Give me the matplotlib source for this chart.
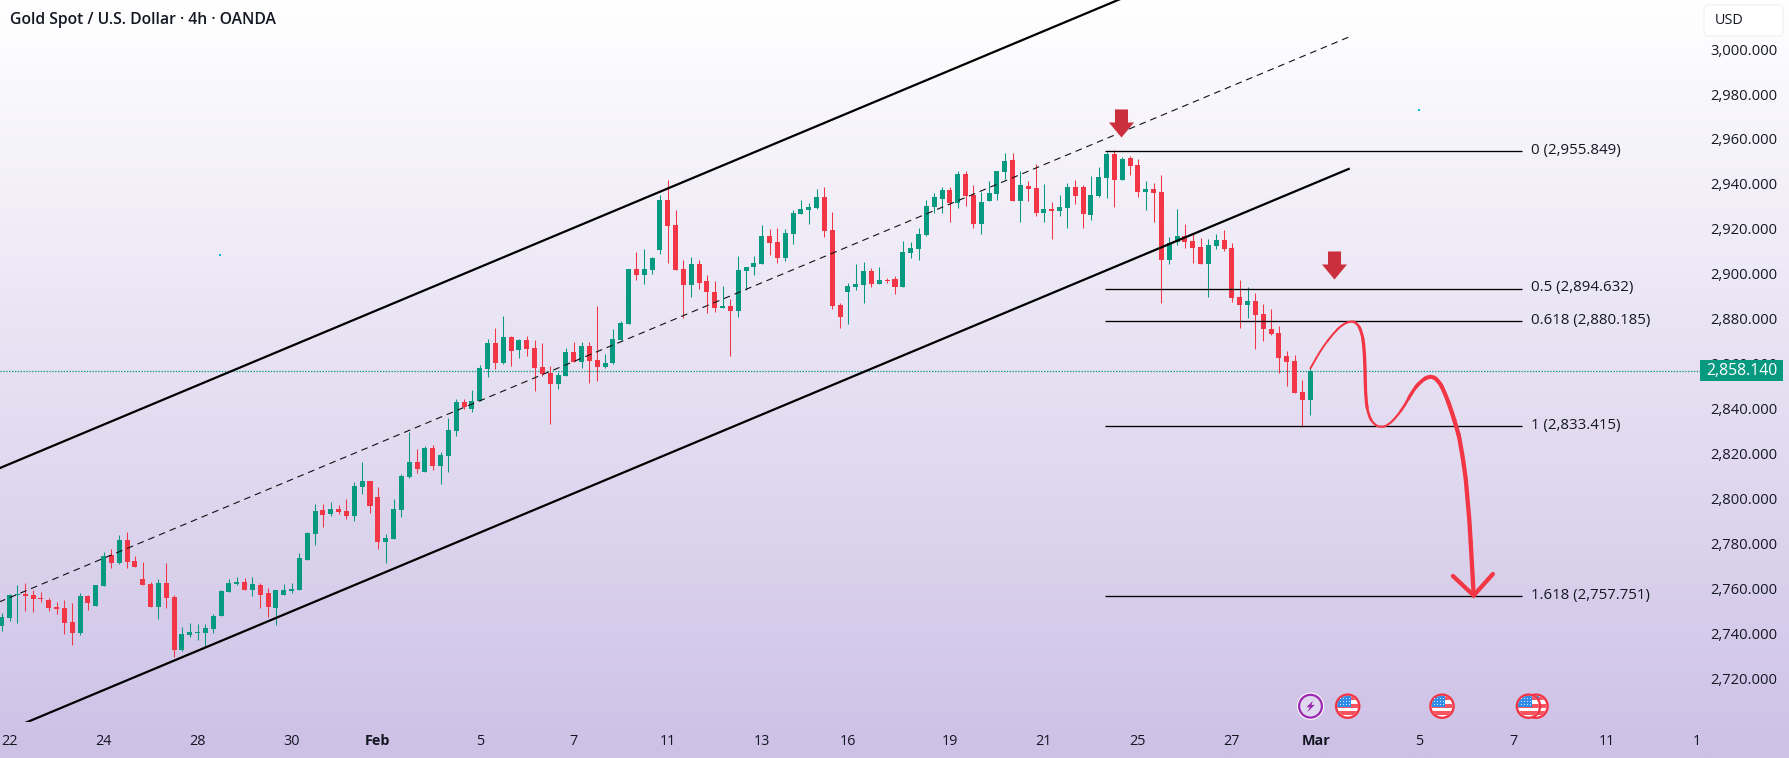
import numpy as np
import matplotlib
matplotlib.use('Agg')
import matplotlib.pyplot as plt
from matplotlib.path import Path
from matplotlib.patches import PathPatch, Rectangle, Circle, FancyBboxPatch, Polygon
from matplotlib.transforms import ScaledTranslation

plt.rcParams['font.family'] = ['Open Sans', 'DejaVu Sans']

# 4h candles: G = rising, R = falling
directions = list(
    "GGGRRRRRRR" "GRGGRGRRRR" "GRRGGGGGGG" "GRGRRGGGGG"
    "GRGRRGGRRG" "GGGRGRGGGR" "GGGRGRGRRR" "RGGRGRRGGG"
    "GRGGGRRRGR" "RRGRGGGGRR" "GGGGGRRRGG" "GRGRRGGGGG"
    "GRGRRGGGGR" "GRRGRGGRRG" "GGRGRRGRRG" "GRRRGGRRRG"
    "RRRRRRRG"
)
highs = [
    2750.1, 2758.6, 2762.8, 2763.6, 2760.5, 2759.6, 2757.0, 2755.2, 2756.1, 2754.7, 2759.2, 2758.3,
    2762.8, 2777.4, 2778.8, 2785.0, 2786.3, 2775.7, 2773.0, 2764.1, 2765.4, 2772.5, 2758.3, 2744.1,
    2745.8, 2745.4, 2745.4, 2749.8, 2760.5, 2765.4, 2766.3, 2765.9, 2766.3, 2763.6, 2761.4, 2760.5,
    2763.2, 2763.6, 2777.0, 2786.3, 2798.8, 2798.8, 2799.7, 2798.4, 2801.0, 2808.6, 2817.5, 2809.1,
    2806.4, 2785.5, 2801.0, 2812.2, 2830.9, 2823.3, 2824.6, 2825.1, 2822.0, 2837.1, 2845.6, 2845.6,
    2849.6, 2860.7, 2872.3, 2877.2, 2882.5, 2873.6, 2872.3, 2873.6, 2871.8, 2870.5, 2860.3, 2857.6,
    2868.3, 2871.0, 2871.0, 2871.0, 2887.0, 2865.6, 2876.7, 2880.3, 2903.4, 2911.0, 2912.4, 2908.8,
    2936.4, 2943.1, 2929.7, 2907.5, 2908.8, 2907.5, 2900.8, 2898.1, 2895.9, 2890.1, 2909.2, 2904.3,
    2909.2, 2923.0, 2921.3, 2921.7, 2921.3, 2929.7, 2934.2, 2932.8, 2939.1, 2940.0, 2928.8, 2888.3,
    2897.2, 2905.7, 2906.6, 2903.9, 2904.3, 2899.4, 2900.3, 2915.9, 2915.5, 2921.7, 2934.2, 2937.3,
    2940.0, 2940.0, 2947.1, 2947.1, 2940.8, 2937.7, 2942.6, 2947.1, 2955.1, 2955.1, 2947.1, 2942.6,
    2950.2, 2941.3, 2933.3, 2936.4, 2941.7, 2943.1, 2940.8, 2944.8, 2948.9, 2955.5, 2956.4, 2953.3,
    2953.8, 2952.4, 2942.6, 2941.7, 2945.3, 2917.7, 2930.2, 2923.5, 2919.5, 2917.2, 2916.8, 2919.0,
    2920.8, 2915.0, 2898.5, 2895.4, 2892.8, 2887.9, 2885.6, 2878.1, 2866.9, 2865.2, 2854.0, 2859.8,
]
body_tops = [
    2748.5, 2758.3, 2758.7, 2758.7, 2758.3, 2757.0, 2756.1, 2753.0, 2752.5, 2746.3, 2757.9, 2757.9,
    2762.8, 2775.7, 2776.0, 2782.8, 2782.8, 2773.4, 2765.4, 2763.2, 2763.6, 2763.6, 2757.4, 2740.9,
    2741.8, 2741.8, 2743.6, 2748.9, 2760.1, 2763.6, 2764.1, 2764.1, 2763.2, 2762.8, 2759.2, 2760.5,
    2760.5, 2761.0, 2774.8, 2785.9, 2795.7, 2796.2, 2796.6, 2796.6, 2795.7, 2806.8, 2809.1, 2809.1,
    2801.9, 2783.7, 2796.6, 2811.3, 2817.5, 2817.5, 2823.8, 2823.8, 2820.6, 2831.8, 2844.2, 2844.2,
    2844.7, 2859.4, 2870.5, 2870.5, 2873.2, 2873.2, 2871.8, 2871.8, 2868.3, 2859.8, 2857.1, 2856.3,
    2866.5, 2866.5, 2869.2, 2869.2, 2862.9, 2861.6, 2872.3, 2879.4, 2903.4, 2903.4, 2903.4, 2908.3,
    2934.2, 2934.2, 2923.0, 2903.4, 2905.7, 2905.7, 2898.1, 2893.2, 2887.0, 2887.0, 2903.0, 2904.3,
    2906.1, 2918.1, 2918.1, 2915.5, 2919.5, 2928.4, 2930.2, 2931.1, 2935.5, 2935.5, 2920.8, 2887.4,
    2895.9, 2896.8, 2902.6, 2902.6, 2898.6, 2898.6, 2899.0, 2911.0, 2912.8, 2919.0, 2931.5, 2935.5,
    2938.6, 2938.6, 2945.7, 2945.7, 2936.4, 2933.3, 2937.3, 2947.1, 2951.5, 2952.0, 2940.8, 2940.4,
    2939.5, 2930.2, 2930.2, 2931.0, 2940.0, 2940.0, 2940.0, 2936.4, 2944.4, 2954.6, 2954.6, 2952.4,
    2952.9, 2949.7, 2939.1, 2939.1, 2937.7, 2915.0, 2918.1, 2918.1, 2915.9, 2913.2, 2914.1, 2916.4,
    2916.4, 2912.8, 2891.0, 2889.2, 2889.2, 2883.4, 2876.7, 2874.9, 2864.7, 2862.5, 2848.7, 2858.1,
]
body_bottoms = [
    2744.5, 2748.1, 2758.3, 2757.9, 2756.5, 2756.5, 2752.5, 2752.1, 2745.8, 2741.4, 2741.4, 2754.7,
    2753.4, 2762.3, 2772.5, 2772.5, 2773.0, 2770.8, 2762.8, 2753.0, 2753.0, 2757.0, 2733.8, 2733.8,
    2740.5, 2741.4, 2741.4, 2743.2, 2749.0, 2759.6, 2763.2, 2760.5, 2760.5, 2758.3, 2753.0, 2752.5,
    2758.3, 2760.1, 2760.5, 2773.9, 2785.5, 2793.9, 2794.4, 2795.3, 2793.5, 2793.5, 2806.4, 2797.9,
    2781.9, 2781.9, 2783.2, 2796.2, 2810.8, 2814.4, 2813.1, 2815.7, 2815.7, 2820.2, 2831.3, 2842.0,
    2841.1, 2844.7, 2858.9, 2861.6, 2861.6, 2866.9, 2867.4, 2867.8, 2859.4, 2856.7, 2852.3, 2852.3,
    2855.8, 2862.0, 2862.0, 2862.5, 2859.8, 2859.8, 2861.6, 2871.8, 2879.0, 2900.8, 2900.8, 2903.0,
    2911.9, 2922.6, 2903.0, 2896.3, 2896.3, 2897.2, 2893.2, 2886.1, 2886.1, 2884.7, 2884.7, 2902.6,
    2904.3, 2905.7, 2915.0, 2908.3, 2908.3, 2919.0, 2927.9, 2929.7, 2930.6, 2920.4, 2887.0, 2882.1,
    2893.2, 2895.4, 2896.3, 2896.8, 2896.8, 2898.1, 2895.4, 2895.4, 2910.6, 2912.4, 2918.6, 2931.1,
    2934.6, 2932.8, 2932.8, 2936.0, 2923.5, 2923.5, 2933.7, 2936.8, 2946.6, 2933.7, 2933.7, 2939.1,
    2928.4, 2928.4, 2929.3, 2929.3, 2930.6, 2935.9, 2927.9, 2927.5, 2935.9, 2944.0, 2943.1, 2943.1,
    2949.3, 2937.7, 2937.7, 2937.3, 2907.4, 2907.4, 2915.5, 2915.5, 2912.8, 2905.7, 2905.7, 2913.7,
    2912.3, 2890.5, 2887.4, 2887.4, 2883.0, 2876.7, 2874.5, 2863.8, 2862.0, 2848.2, 2845.1, 2845.1,
]
lows = [
    2742.3, 2746.7, 2745.8, 2751.2, 2750.7, 2755.2, 2751.2, 2749.8, 2740.9, 2736.0, 2740.5, 2751.6,
    2753.4, 2762.3, 2770.3, 2772.1, 2770.3, 2770.8, 2762.8, 2753.0, 2747.6, 2752.5, 2730.7, 2733.4,
    2739.6, 2738.3, 2735.1, 2741.4, 2749.0, 2759.6, 2762.8, 2760.5, 2757.9, 2752.5, 2748.5, 2744.9,
    2758.3, 2759.2, 2760.5, 2773.9, 2780.6, 2788.6, 2793.5, 2794.4, 2792.1, 2791.3, 2803.3, 2794.8,
    2778.8, 2772.6, 2783.2, 2793.0, 2810.4, 2812.6, 2813.1, 2814.0, 2807.7, 2813.1, 2829.1, 2841.1,
    2839.8, 2844.7, 2855.4, 2858.9, 2861.2, 2860.3, 2863.8, 2864.7, 2849.1, 2855.8, 2834.4, 2850.0,
    2855.8, 2862.0, 2859.4, 2852.7, 2853.6, 2859.4, 2861.2, 2871.8, 2879.0, 2898.6, 2896.8, 2901.2,
    2910.1, 2906.1, 2903.0, 2881.6, 2891.0, 2894.5, 2883.9, 2884.3, 2886.1, 2864.7, 2882.1, 2894.1,
    2900.8, 2905.7, 2909.7, 2906.1, 2907.0, 2914.6, 2927.9, 2923.5, 2930.2, 2917.7, 2885.6, 2877.2,
    2879.0, 2894.1, 2888.3, 2895.4, 2896.8, 2897.2, 2892.3, 2895.4, 2908.3, 2907.5, 2918.1, 2928.4,
    2928.4, 2924.4, 2930.6, 2931.5, 2921.7, 2919.0, 2933.7, 2934.2, 2943.5, 2933.7, 2924.4, 2933.7,
    2927.0, 2924.4, 2916.8, 2927.0, 2921.7, 2932.4, 2921.7, 2925.3, 2935.5, 2935.1, 2931.0, 2943.1,
    2945.3, 2935.5, 2929.7, 2924.4, 2888.3, 2905.7, 2914.1, 2912.8, 2906.1, 2905.7, 2891.0, 2912.3,
    2911.5, 2888.8, 2877.2, 2881.6, 2867.8, 2871.4, 2874.1, 2857.1, 2851.4, 2848.2, 2833.1, 2838.4,
]
last_close = 2858.140

# Date axis labels and the bar each one sits under
date_ticks = [1, 13, 25, 37, 48, 61, 73, 85, 97, 108, 121, 133, 145, 157, 167.8, 180.9, 192.9, 204.9, 216.3]
date_labels = ["22", "24", "28", "30", "Feb", "5", "7", "11", "13", "16", "19", "21", "25", "27", "Mar", "5", "7", "11", "1"]
bold_dates = {"Feb", "Mar"}
price_ticks = list(range(2720, 3001, 20))

# Fibonacci extension levels
fib_ratios = [0, 0.5, 0.618, 1, 1.618]
fib_prices = [2955.849, 2894.632, 2880.185, 2833.415, 2757.751]
fib_span = [140.8, 194.0]
fib_label_x = 195.2

# Rising channel: upper bound, median (dashed), lower bound
channel_x = [-1, 171.9]
channel_upper = [2813.7, 3066.2]
channel_median = [2754.2, 3006.7]
channel_lower = [2695.5, 2948.0]

# Projected price path
path_x = [167.01, 168.46, 169.95, 171.01, 172.08, 172.93, 173.56, 173.86, 173.99, 174.07, 174.42, 175.05,
          175.99, 176.97, 178.03, 179.09, 179.95, 181.01, 182.29, 183.35, 184.2, 185.05, 185.69, 186.11,
          187.1, 187.85]
path_y = [2859.2, 2868.1, 2874.8, 2878.5, 2880.3, 2879.6, 2875.5, 2868.9, 2858.5, 2845.1, 2838.4, 2834.4,
          2832.8, 2834.0, 2837.7, 2842.9, 2848.5, 2853.3, 2856.0, 2854.0, 2848.1, 2839.9, 2832.5, 2827.3,
          2804.6, 2758.1]
path_width = [1.4, 1.4, 1.5, 1.5, 1.6, 1.8, 2.2, 2.4, 2.4, 2.3, 1.9, 1.6,
              1.5, 1.5, 1.6, 1.9, 2.4, 2.7, 2.9, 3.0, 3.0, 3.1, 3.1, 3.1,
              3.1, 3.1]
head_x = [185.2, 187.85, 190.3]
head_y = [2766.75, 2758.1, 2767.65]

# Block arrows marking the two expected reversal zones
marker_x = [142.8, 169.96]
marker_y = [2968.45, 2905.2]
# Small alert dots
dot_x = [27.86, 180.9]
dot_y = [2909.8, 2974.4]

W, H = 1789, 758
GREEN, RED = '#089981', '#F23645'
INK = '#131722'

fig = plt.figure(figsize=(W / 100, H / 100), dpi=100)

# Page background: vertical fade from white to lavender
bg = fig.add_axes([0, 0, 1, 1], zorder=0)
top, bottom = np.array([255, 255, 255]) / 255, np.array([205, 193, 230]) / 255
bg.imshow(np.linspace(top, bottom, 256).reshape(256, 1, 3), aspect='auto', extent=[0, 1, 0, 1])
bg.axis('off')

# Price pane
plot_right, plot_bottom = 1700, 722
ax = fig.add_axes([0, (H - plot_bottom) / H, plot_right / W, plot_bottom / H], zorder=1)
ax.patch.set_visible(False)
for s in ax.spines.values():
    s.set_visible(False)
ax.set_xlim(-0.217, 216.73)
ax.set_ylim(2701.75, 3023.21)

x = np.arange(len(highs))
rising = np.array(directions) == 'G'
cols = np.where(rising, GREEN, RED)
tops, bots = np.array(body_tops), np.array(body_bottoms)
ax.vlines(x, lows, highs, colors=cols, lw=0.75, zorder=2)
ax.bar(x, tops - bots, bottom=bots, width=0.64, color=cols, lw=0, zorder=2.2)

# Last-price guide
ax.axhline(last_close, color=GREEN, lw=0.9, ls=(0, (1.1, 1.2)), zorder=1.5)

# Channel
ax.plot(channel_x, channel_upper, color='#000000', lw=1.6, zorder=3)
ax.plot(channel_x, channel_lower, color='#000000', lw=1.6, zorder=3)
ax.plot(channel_x, channel_median, color='#111111', lw=0.8, ls=(0, (6, 4.4)), zorder=3)

# Fibonacci levels
for r, p in zip(fib_ratios, fib_prices):
    ax.plot(fib_span, [p, p], color='#000000', lw=0.95, zorder=3, solid_capstyle='butt')
    ax.text(fib_label_x, p + 0.4, f"{r:g} ({p:,.3f})", color=INK, fontsize=10.8, va='center', ha='left', zorder=3)

# Projected path: quadratic pieces through segment midpoints, stroke width grows along its length
px = np.array(path_x)
py = np.array(path_y)
mids = np.column_stack([(px[:-1] + px[1:]) / 2, (py[:-1] + py[1:]) / 2])
ax.plot([px[0], mids[0, 0]], [py[0], mids[0, 1]], color=RED, lw=path_width[0], solid_capstyle='round', zorder=4)
for k in range(1, len(px) - 1):
    verts = [mids[k - 1], (px[k], py[k]), mids[k]]
    ax.add_patch(PathPatch(Path(verts, [Path.MOVETO, Path.CURVE3, Path.CURVE3]), fill=False, ec=RED,
                           lw=path_width[k], capstyle='round', zorder=4))
ax.plot([mids[-1, 0], px[-1]], [mids[-1, 1], py[-1]], color=RED, lw=path_width[-1],
        solid_capstyle='round', zorder=4)
ax.plot(head_x, head_y, color=RED, lw=path_width[-1], solid_capstyle='round', solid_joinstyle='miter', zorder=4)

# Block arrow markers
arrow = Path(np.array([[-6.5, 14], [6.5, 14], [6.5, 1], [12.5, 1], [0, -14], [-12.5, 1], [-6.5, 1], [-6.5, 14]]),
             closed=True)
ax.plot(marker_x, marker_y, ls='none', marker=arrow, ms=20.2, mfc='#CB2E3C', mew=0, zorder=5)

ax.plot(dot_x, dot_y, ls='none', marker='s', ms=1.7, mfc='#00BCD4', mew=0, zorder=5)

# Axis ticks and labels
ax.yaxis.tick_right()
ax.set_yticks(price_ticks)
ax.set_yticklabels([f"{p:,.3f}" for p in price_ticks], fontsize=10.6, color=INK)
ax.tick_params(axis='y', length=0, pad=7.2)
ax.set_xticks(date_ticks)
ax.set_xticklabels(date_labels, fontsize=10.4, color=INK)
ax.tick_params(axis='x', length=0, pad=8.5)
for lab in ax.get_xticklabels():
    if lab.get_text() in bold_dates:
        lab.set_fontweight('bold')
nudge = ScaledTranslation(0, 1 / 100, fig.dpi_scale_trans)
for lab in ax.get_yticklabels():
    lab.set_verticalalignment('center')
    lab.set_transform(lab.get_transform() + nudge)

# Current price tag over the scale
trans = ax.get_yaxis_transform()
ax.add_patch(Rectangle((1.0, last_close - 4.7), 0.0488, 9.4, transform=trans, fc=GREEN, ec='none',
                       clip_on=False, zorder=10))
ax.text(1.0245, last_close - 0.2, f"{last_close:,.3f}", transform=trans, ha='center', va='center', color='white',
        fontsize=11.3, fontweight='medium', clip_on=False, zorder=11)

# Header, currency button and event badges, placed in page pixels
ov = fig.add_axes([0, 0, 1, 1], zorder=2)
ov.set_xlim(0, W)
ov.set_ylim(H, 0)
ov.axis('off')
ov.text(10, 20, "Gold Spot / U.S. Dollar · 4h · OANDA", fontsize=11.3, fontweight='semibold', color=INK,
        va='center', ha='left')
ov.add_patch(FancyBboxPatch((1707, 8), 73, 25, boxstyle='round,pad=3,rounding_size=5', fc='white', ec='#F0F0F3', lw=0.8))
ov.text(1715, 20.5, "USD", fontsize=10.4, color=INK, va='center', ha='left')


def flag_badge(cx, cy):
    ov.add_patch(Circle((cx, cy), 12.8, fc=RED, ec='none'))
    inner = Circle((cx, cy), 10.4, fc='white', ec='none')
    ov.add_patch(inner)
    shapes = [Rectangle((cx - 11, cy - 9), 22, 3.2, fc='#F7525F', ec='none'),
              Rectangle((cx - 11, cy - 2), 22, 4, fc='#F7525F', ec='none'),
              Rectangle((cx - 11, cy + 5), 22, 4.2, fc='#F7525F', ec='none'),
              Rectangle((cx - 11, cy - 11), 14, 12, fc='#2F8CEB', ec='none')]
    for sh in shapes:
        ov.add_patch(sh)
        sh.set_clip_path(inner)
    for dx in (-7.5, -4.5, -1.5, 1.5):
        for dy in (-7.5, -4.5, -1.5):
            ov.add_patch(Rectangle((cx + dx - 0.5, cy + dy - 0.5), 1, 1, fc='#DCEBFA', ec='none'))


bolt_center = np.array([1310.5, 706.2])
ov.add_patch(Circle(bolt_center, 13.6, fc='white', ec='none'))
ov.add_patch(Circle(bolt_center, 11.4, fc='#E0D8EE', ec='#9C27B0', lw=1.6))
ov.add_patch(Polygon(np.array([[2.3, -5.3], [-4.0, 1.0], [-0.7, 1.0], [-3.3, 6.0], [4.3, -1.3], [1.0, -1.3]]) + bolt_center,
                     fc='#9C27B0', ec='none'))
flag_badge(1347.7, 706.2)
flag_badge(1442, 706.2)
flag_badge(1536, 706.2)
flag_badge(1528.5, 706.2)

fig.savefig('out.png', dpi=100)
